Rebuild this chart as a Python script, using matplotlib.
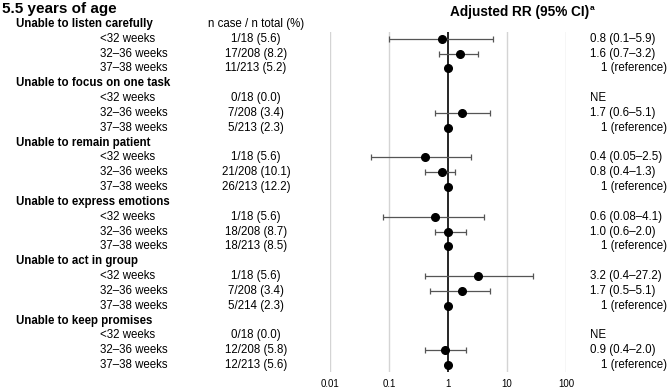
import numpy as np
import matplotlib
matplotlib.use('Agg')
import matplotlib.pyplot as plt
from matplotlib.transforms import blended_transform_factory

plt.rcParams['font.family'] = ['Liberation Sans', 'DejaVu Sans']

# data
groups = ["Unable to listen carefully", "Unable to focus on one task",
          "Unable to remain patient", "Unable to express emotions",
          "Unable to act in group", "Unable to keep promises"]
subgroups = ["<32 weeks", "32\u201336 weeks", "37\u201338 weeks"]
counts = [["1/18 (5.6)", "17/208 (8.2)", "11/213 (5.2)"],
          ["0/18 (0.0)", "7/208 (3.4)", "5/213 (2.3)"],
          ["1/18 (5.6)", "21/208 (10.1)", "26/213 (12.2)"],
          ["1/18 (5.6)", "18/208 (8.7)", "18/213 (8.5)"],
          ["1/18 (5.6)", "7/208 (3.4)", "5/214 (2.3)"],
          ["0/18 (0.0)", "12/208 (5.8)", "12/213 (5.6)"]]
rr = [[0.8, 1.6, 1], [np.nan, 1.7, 1], [0.4, 0.8, 1],
      [0.6, 1.0, 1], [3.2, 1.7, 1], [np.nan, 0.9, 1]]
lo = [[0.1, 0.7, np.nan], [np.nan, 0.6, np.nan], [0.05, 0.4, np.nan],
      [0.08, 0.6, np.nan], [0.4, 0.5, np.nan], [np.nan, 0.4, np.nan]]
hi = [[5.9, 3.2, np.nan], [np.nan, 5.1, np.nan], [2.5, 1.3, np.nan],
      [4.1, 2.0, np.nan], [27.2, 5.1, np.nan], [np.nan, 2.0, np.nan]]
labels = [["0.8 (0.1\u20135.9)", "1.6 (0.7\u20133.2)", "1 (reference)"],
          ["NE", "1.7 (0.6\u20135.1)", "1 (reference)"],
          ["0.4 (0.05\u20132.5)", "0.8 (0.4\u20131.3)", "1 (reference)"],
          ["0.6 (0.08\u20134.1)", "1.0 (0.6\u20132.0)", "1 (reference)"],
          ["3.2 (0.4\u201327.2)", "1.7 (0.5\u20135.1)", "1 (reference)"],
          ["NE", "0.9 (0.4\u20132.0)", "1 (reference)"]]
xticks = [0.01, 0.1, 1, 10, 100]
xticklabels = ["0.01", "0.1", "1", "10", "100"]

W, H = 669, 390
fig = plt.figure(figsize=(W / 100, H / 100), dpi=100)
ax = fig.add_axes([330 / W, 1 - 372 / H, 236 / W, 340 / H])
ax.set_xscale('log')
ax.set_xlim(0.01, 100)
ax.set_ylim(23.47, 0.54)
for s in ax.spines.values():
    s.set_visible(False)
ax.set_yticks([])
ax.set_xticks(xticks)
ax.set_xticklabels(xticklabels, fontsize=7)
ax.xaxis.set_minor_locator(matplotlib.ticker.NullLocator())
ax.tick_params(axis='x', length=0, pad=5)
for t in xticks:
    if t == 1:
        ax.axvline(t, color='black', lw=1.2, zorder=2)
    else:
        ax.axvline(t, color='#d4d4d4', lw=1, zorder=1)

tr = blended_transform_factory(fig.transFigure, ax.transData)
fs = 8.3
row = 0
for g in range(len(groups)):
    ax.text(16 / W, row, groups[g], transform=tr, fontsize=fs,
            fontweight='bold', va='center', ha='left')
    for k in range(3):
        y = row + 1 + k
        ax.text(100 / W, y, subgroups[k], transform=tr, fontsize=fs,
                va='center', ha='left')
        ax.text(256 / W, y, counts[g][k], transform=tr, fontsize=fs,
                va='center', ha='center')
        xlab = 601 if labels[g][k].startswith("1 (") else 590
        ax.text(xlab / W, y, labels[g][k], transform=tr, fontsize=fs,
                va='center', ha='left')
        if not np.isnan(rr[g][k]):
            if not np.isnan(lo[g][k]):
                ax.errorbar([rr[g][k]], [y],
                            xerr=[[rr[g][k] - lo[g][k]], [hi[g][k] - rr[g][k]]],
                            fmt='none', ecolor='#555555', elinewidth=0.9,
                            capsize=2, capthick=0.9, zorder=3)
            ax.plot([rr[g][k]], [y], 'o', color='black', markersize=5.5,
                    zorder=4)
    row += 4

ax.text(256 / W, 0, "n case / n total (%)", transform=tr, fontsize=fs,
        va='center', ha='center')
ttl = fig.text(450 / W, 1 - 12 / H, "Adjusted RR (95% CI)", fontsize=9.8,
               fontweight='bold', ha='left', va='center')
fig.canvas.draw()
bb = ttl.get_window_extent()
fig.text((bb.x1 + 0.5) / W, 1 - 9 / H, "a", fontsize=6, fontweight='bold',
         ha='left', va='center')
fig.text(2 / W, 1 - 9 / H, "5.5 years of age", fontsize=11,
         fontweight='bold', ha='left', va='center')

fig.savefig('out.png', dpi=100)
